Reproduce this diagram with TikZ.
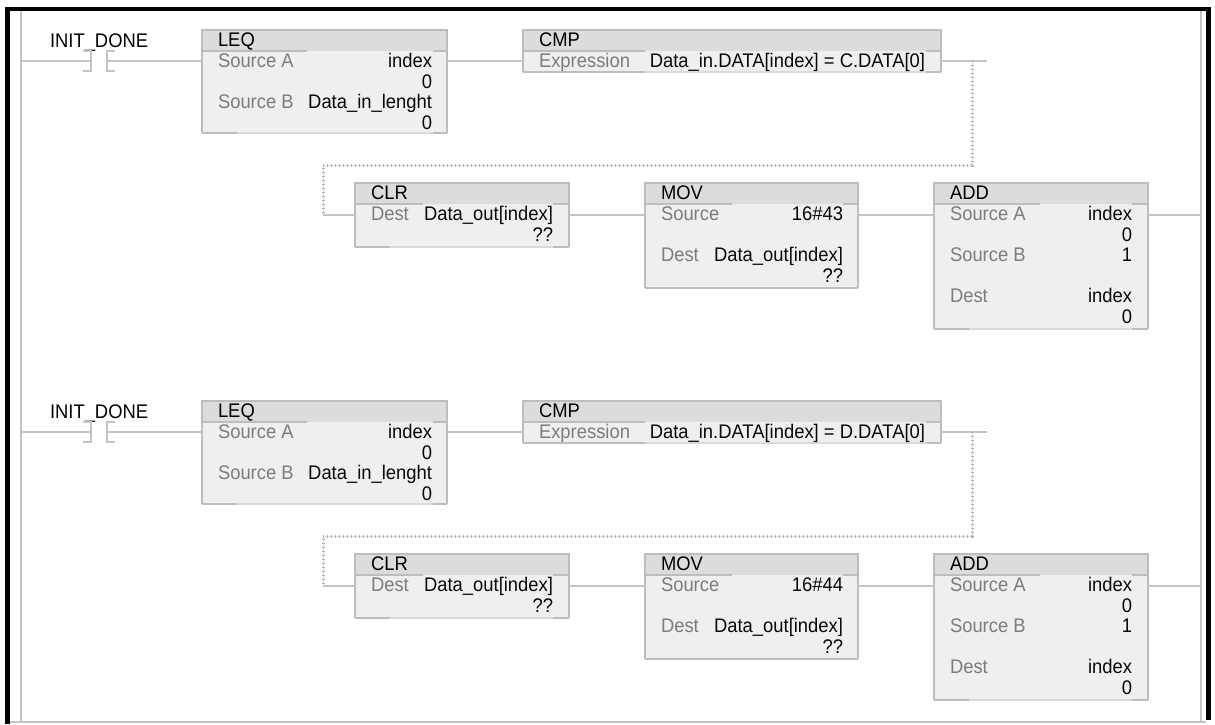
\documentclass[tikz,border=0pt]{standalone}
\usepackage{fontspec}
\setmainfont{Liberation Sans}
\usetikzlibrary{calc}
\definecolor{wirecol}{HTML}{C4C4C4}
\definecolor{boxedge}{HTML}{BDBDBD}
\definecolor{boxedgelt}{HTML}{DADADA}
\definecolor{headcol}{HTML}{DCDCDC}
\definecolor{bodycol}{HTML}{EFEFEF}
\definecolor{lblcol}{HTML}{7C7C7C}
\definecolor{valcol}{HTML}{080808}
\tikzset{
 wire/.style={draw=wirecol, line width=1.2pt},
 plcbody/.style={fill=bodycol, inner sep=0pt, outer sep=0pt, draw=none, rectangle},
 boxline/.style={draw=boxedge, line width=1.3pt},
 boxlight/.style={draw=boxedgelt, line width=1.3pt},
 txt/.style={inner sep=0pt, outer sep=0pt, font=\fontsize{18.4}{20}\selectfont},
 ttl/.style={txt, anchor=base west, text=black},
 lbl/.style={txt, anchor=base west, text=lblcol},
 val/.style={txt, anchor=base east, text=valcol},
 linkbase/.style={draw=gray!30, line width=1pt},
 linkticks/.style={draw=gray!60, line width=3pt, dash pattern=on 0.7pt off 3.3pt},
 railline/.style={draw=wirecol, line width=1.2pt},
 framebar/.style={fill=black},
}
\newcommand\vstretch[1]{\scalebox{1}[1.07]{#1}}
% #1 name, #2 x, #3 y, #4 w, #5 h, #6 title, #7 header-sep left end, #8 right start, #9 bottom left stub end
\newcommand\plcbox[9]{%
 \node[plcbody, anchor=north west, minimum width=#4pt, minimum height=#5pt] (#1) at (#2,#3) {};
 \fill[headcol] (#1.north west) rectangle ($(#1.north east)+(0,21)$);
 \draw[boxlight] (#1.south west) -- (#1.south east);
 \draw[boxline] (#1.south west) -- (#1.north west) -- (#1.north east) -- (#1.south east);
 \draw[boxline] (#2,{#3+21}) -- (#7,{#3+21});
 \draw[boxline] (#8,{#3+21}) -- ({#2+#4},{#3+21});
 \draw[boxline] (#2,{#3+#5}) -- (#9,{#3+#5});
 \draw[boxline] (#8,{#3+#5}) -- ({#2+#4},{#3+#5});
 \node[ttl] (#1-t) at ({#2+16},{#3+16.5}) {\vstretch{#6}};
}
% #1 name, #2 label x, #3 value right x, #4 baseline, #5 label, #6 value
\newcommand\plcrow[6]{%
 \node[lbl] (#1-l) at (#2,#4) {\vstretch{#5}};
 \node[val] (#1-v) at (#3,#4) {\vstretch{#6}};
}
\begin{document}
\begin{tikzpicture}[x=1pt,y=-1pt]
\useasboundingbox (0,0) rectangle (1215,724);
\fill[white] (0,0) rectangle (1215,724);
% rails and frame
\coordinate (rlTop) at (21,11);
\coordinate (rlBot) at (21,722);
\coordinate (rrTop) at (1201,11);
\coordinate (rrBot) at (1201,722);
\draw[railline] (rlTop) -- (rlBot);
\draw[railline] (rrTop) -- (rrBot);
\draw[railline] (10,722) -- (1206,722);
\fill[framebar] (5,6.5) rectangle (1211,11);
\fill[framebar] (5,6.5) rectangle (10,724);
\fill[framebar] (1206,6.5) rectangle (1211,720);

\foreach \r/\dy/\ltr/\hex in {1/0/C/43,2/371/D/44}{
 \pgfmathsetmacro\tA{30+\dy}
 \pgfmathsetmacro\tB{183+\dy}
 % contact
 \node[ttl] (tag\r) at (50,{47+\dy}) {\vstretch{INIT\_DONE}};
 \coordinate (railL\r) at (21,{61+\dy});
 \coordinate (conL\r) at (91,{61+\dy});
 \coordinate (conR\r) at (107,{61+\dy});
 \draw[wire] ($(conL\r)+(-8,-10)$) -- ($(conL\r)+(0,-10)$) -- ($(conL\r)+(0,10)$) -- ($(conL\r)+(-8,10)$);
 \draw[wire] ($(conR\r)+(8,-10)$) -- ($(conR\r)+(0,-10)$) -- ($(conR\r)+(0,10)$) -- ($(conR\r)+(8,10)$);
 % LEQ
 \plcbox{leq\r}{202}{\tA}{245}{103}{LEQ}{307}{433}{237}
 \plcrow{leq\r a}{218}{432}{\tA+37.5}{Source A}{index}
 \plcrow{leq\r b}{218}{432}{\tA+58}{}{0}
 \plcrow{leq\r c}{218}{432}{\tA+78.5}{Source B}{Data\_in\_lenght}
 \plcrow{leq\r d}{218}{432}{\tA+99}{}{0}
 % CMP
 \plcbox{cmp\r}{523}{\tA}{418}{42}{CMP}{645}{926}{645}
 \plcrow{cmp\r a}{539}{925}{\tA+37.5}{Expression}{Data\_in.DATA[index] = \ltr.DATA[0]}
 % CLR
 \plcbox{clr\r}{355}{\tB}{214}{64}{CLR}{423}{553}{390}
 \plcrow{clr\r a}{371}{553}{\tB+37.5}{Dest}{Data\_out[index]}
 \plcrow{clr\r b}{371}{553}{\tB+58}{}{??}
 % MOV
 \plcbox{mov\r}{645}{\tB}{213}{105}{MOV}{732}{843}{858}
 \plcrow{mov\r a}{661}{843}{\tB+37.5}{Source}{16\#\hex}
 \plcrow{mov\r b}{661}{843}{\tB+78.5}{Dest}{Data\_out[index]}
 \plcrow{mov\r c}{661}{843}{\tB+99}{}{??}
 % ADD
 \plcbox{add\r}{934}{\tB}{214}{146}{ADD}{1040}{1132}{969}
 \plcrow{add\r a}{950}{1132}{\tB+37.5}{Source A}{index}
 \plcrow{add\r b}{950}{1132}{\tB+58}{}{0}
 \plcrow{add\r c}{950}{1132}{\tB+78.5}{Source B}{1}
 \plcrow{add\r d}{950}{1132}{\tB+119.5}{Dest}{index}
 \plcrow{add\r e}{950}{1132}{\tB+140}{}{0}
 % wires of rung
 \coordinate (stub\r) at (987,{61+\dy});
 \coordinate (brA\r) at (972,{61+\dy});
 \coordinate (brB\r) at (972,{165+\dy});
 \coordinate (brC\r) at (323,{165+\dy});
 \coordinate (brD\r) at (323,{215+\dy});
 \coordinate (railR\r) at (1201,{215+\dy});
 \draw[wire] (railL\r) -- (conL\r);
 \draw[wire] (conR\r) -- (conR\r -| leq\r.west);
 \draw[wire] (conR\r -| leq\r.east) -- (conR\r -| cmp\r.west);
 \draw[wire] (conR\r -| cmp\r.east) -- (stub\r);
 \draw[linkbase] (brA\r) -- (brB\r) -- (brC\r) -- (brD\r);
 \draw[linkticks] (brA\r) -- (brB\r) -- (brC\r) -- (brD\r);
 \draw[wire] (brD\r) -- (brD\r -| clr\r.west);
 \draw[wire] (brD\r -| clr\r.east) -- (brD\r -| mov\r.west);
 \draw[wire] (brD\r -| mov\r.east) -- (brD\r -| add\r.west);
 \draw[wire] (brD\r -| add\r.east) -- (railR\r);
}
\end{tikzpicture}
\end{document}
